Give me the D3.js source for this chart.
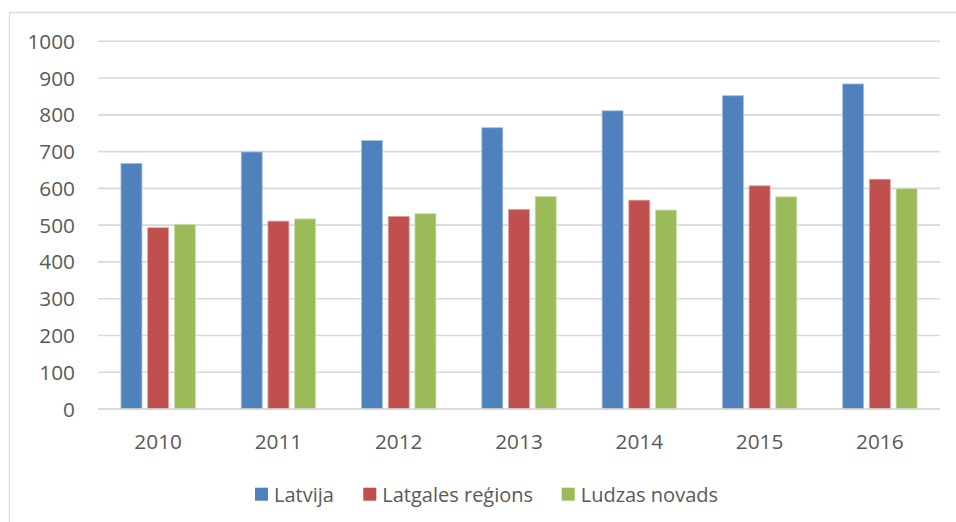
<!DOCTYPE html>
<html>
<head>
<meta charset="utf-8">
<script src="https://cdn.jsdelivr.net/npm/d3@7"></script>
<style>
  html, body { margin: 0; padding: 0; background: #fff; }
  svg { display: block; }
  text { font-family: "Open Sans", "Noto Sans", sans-serif; fill: #595959; }
</style>
</head>
<body>
<svg id="chart" width="956" height="522"></svg>
<script>
const years = ["2010", "2011", "2012", "2013", "2014", "2015", "2016"];
const seriesNames = ["Latvija", "Latgales reģions", "Ludzas novads"];
const latvija = [668, 699, 730, 765, 811, 852, 884];
const latgale = [493, 511, 524, 543, 568, 607, 625];
const ludza = [502, 517, 531, 578, 541, 577, 599];
const yTicks = [0, 100, 200, 300, 400, 500, 600, 700, 800, 900, 1000];
const colors = ["#4f81bd", "#c0504d", "#9bbb59"];
const strokes = ["#a7c0de", "#e0a8a6", "#cddcac"];

const seriesValues = [latvija, latgale, ludza];

const svg = d3.select("#chart");
const W = 956, H = 522;
const plotLeft = 98, plotRight = 940, plotTop = 41.3, plotBottom = 409;

// outer chart frame (clipped at right/bottom)
svg.append("path")
  .attr("d", `M9.5,${H + 2} L9.5,12.5 L${W + 2},12.5`)
  .attr("fill", "none").attr("stroke", "#d9d9d9").attr("stroke-width", 1.3);

const x = d3.scaleBand().domain(years).range([plotLeft, plotRight]).paddingInner(0).paddingOuter(0);
const y = d3.scaleLinear().domain([0, 1000]).range([plotBottom, plotTop]);

const barW = 21, step = 26.7;

// gridlines
svg.append("g").selectAll("line").data(yTicks).join("line")
  .attr("x1", plotLeft).attr("x2", plotRight)
  .attr("y1", d => y(d)).attr("y2", d => y(d))
  .attr("stroke", "#d9d9d9").attr("stroke-width", 1.6);

// y tick labels
svg.append("g").selectAll("text").data(yTicks).join("text")
  .attr("x", 75).attr("y", d => y(d) + 7.5)
  .attr("text-anchor", "end")
  .style("font-size", "20.8px")
  .text(d => d);

// bars
const groupW = step * 2 + barW;
seriesValues.forEach((vals, si) => {
  svg.append("g").selectAll("rect").data(years).join("rect")
    .attr("x", (d) => x(d) + x.bandwidth() / 2 - groupW / 2 + si * step)
    .attr("y", (d, i) => y(vals[i]))
    .attr("width", barW)
    .attr("height", (d, i) => y(0) - y(vals[i]))
    .attr("fill", colors[si])
    .attr("stroke", strokes[si]).attr("stroke-width", 0.8);
});

// axis baseline
svg.append("line")
  .attr("x1", plotLeft).attr("x2", plotRight)
  .attr("y1", y(0)).attr("y2", y(0))
  .attr("stroke", "#d9d9d9").attr("stroke-width", 1.6);

// x labels
svg.append("g").selectAll("text").data(years).join("text")
  .attr("x", d => x(d) + x.bandwidth() / 2)
  .attr("y", 449)
  .attr("text-anchor", "middle")
  .style("font-size", "20.8px")
  .text(d => d);

// legend
const legendX = [255, 363.3, 561.7];
const lg = svg.append("g");
seriesNames.forEach((name, i) => {
  lg.append("rect").attr("x", legendX[i]).attr("y", 487.7)
    .attr("width", 13).attr("height", 13).attr("fill", colors[i]);
  lg.append("text").attr("x", legendX[i] + 19).attr("y", 501.5)
    .style("font-size", "20px").text(name);
});
</script>
</body>
</html>
